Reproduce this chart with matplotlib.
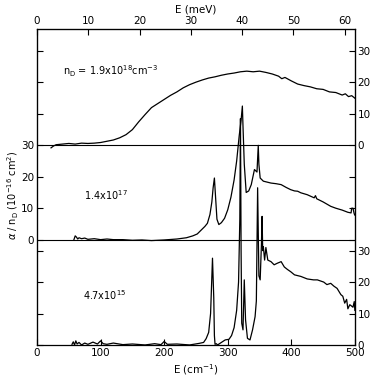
import numpy as np
import matplotlib
matplotlib.use('Agg')
import matplotlib.pyplot as plt

# offsets of the stacked spectra (in units of 1e-16 cm^2)
off_bot = 0.0
off_mid = 33.5
off_top = 63.5

# n_D = 1.9e18
top_x = [22, 26, 30, 40, 50, 60, 70, 80, 90, 100, 110, 120, 130, 140, 150, 160, 170, 180,
         190, 200, 210, 220, 230, 240, 250, 260, 270, 280, 290, 300, 310, 320, 330, 340,
         350, 360, 370, 380, 385, 390, 400, 410, 420, 430, 440, 450, 460, 470, 480, 485,
         490, 495, 500]
top_y = [-0.8, -0.2, 0.2, 0.4, 0.6, 0.4, 0.7, 0.6, 0.7, 0.9, 1.3, 1.7, 2.4, 3.4, 5.0, 7.5, 9.8,
         12.0, 13.3, 14.6, 15.9, 17.0, 18.3, 19.3, 20.1, 20.8, 21.4, 21.8, 22.3, 22.7, 23.0, 23.4,
         23.6, 23.4, 23.6, 23.2, 22.7, 22.0, 21.2, 21.6, 20.5, 19.5, 19.0, 18.6, 18.0, 17.8,
         17.0, 16.8, 16.0, 16.4, 15.5, 15.8, 15.0]

# n_D = 1.4e17
mid_x = [58, 60, 62, 64, 66, 70, 75, 80, 90, 100, 110, 120, 135, 150, 165, 180, 200, 220,
         235, 245, 252, 258, 264, 268, 272, 275, 277, 279, 281, 283, 286, 290, 295, 300, 305,
         310, 314, 318, 321, 323, 324, 326, 329, 333, 337, 342, 346, 348, 349, 351, 356, 362,
         368, 376, 384, 392, 399, 405, 410, 415, 425, 436, 438, 440, 450, 462, 470, 480, 489,
         494, 495, 497, 499, 500]
mid_y = [0.0, 1.2, 0.8, 0.2, 0.6, 0.3, 0.5, 0.1, 0.3, 0.0, 0.2, 0.0, 0.0, -0.2, -0.1, -0.3, -0.1,
         0.2, 0.6, 1.2, 1.8, 3.0, 4.2, 5.2, 8.0, 12.0, 16.5, 19.6, 13.0, 6.5, 4.8, 5.4, 6.8, 9.5,
         13.5, 19.0, 25.0, 33.0, 38.0, 42.5, 36.0, 24.0, 15.0, 15.5, 17.5, 22.3, 21.5, 30.0, 24.0,
         19.6, 18.6, 18.3, 18.0, 17.8, 17.5, 16.6, 15.9, 15.5, 15.4, 14.9, 14.3, 13.3, 14.0,
         13.0, 12.0, 10.6, 10.0, 9.4, 8.7, 8.5, 10.0, 10.0, 8.2, 7.8]

# n_D = 4.7e15
bot_x = [55, 57, 59, 61, 63, 66, 70, 75, 80, 88, 95, 100, 104, 110, 120, 135, 150, 170, 185,
         195, 200, 205, 220, 240, 255, 262, 266, 270, 273, 276, 278, 279, 280, 282, 284, 290,
         296, 302, 306, 310, 314, 317, 319, 320, 321, 322, 324, 326, 328, 331, 335, 339, 343,
         345, 347, 349, 351, 353, 354, 355, 356, 358, 360, 363, 368, 373, 378, 384, 389, 394,
         399, 405, 415, 425, 435, 441, 451, 456, 462, 467, 472, 478, 481, 484, 487, 489, 492,
         494, 497, 499, 500]
bot_y = [0.2, 1.0, 0.0, 1.3, 0.3, 0.8, 0.0, 0.6, 0.2, 0.9, 0.3, 1.3, 0.4, 0.2, 0.6, 0.1, 0.3,
         0.0, 0.4, 0.1, 1.1, 0.2, 0.3, 0.0, 0.5, 0.8, 2.0, 4.0, 10.0, 27.6, 15.0, 3.0, 0.2, 0.4,
         0.0, 0.8, 1.6, 1.8, 3.0, 5.5, 11.0, 20.0, 40.0, 72.0, 30.0, 6.9, 4.8, 20.7, 8.0, 2.1,
         1.6, 4.8, 9.0, 14.0, 50.0, 22.0, 20.7, 32.0, 40.9, 30.0, 31.3, 27.0, 31.0, 27.0, 26.5,
         25.5, 26.0, 26.5, 24.8, 24.0, 23.3, 22.3, 21.8, 21.0, 20.7, 20.7, 20.0, 19.2, 19.6,
         18.7, 18.0, 16.0, 15.5, 13.3, 14.5, 11.5, 12.8, 12.5, 12.0, 13.8, 11.0]

side_ticks = [0, 10, 20, 30]
cm_ticks = [0, 100, 200, 300, 400, 500]
mev_ticks = [0, 10, 20, 30, 40, 50, 60]

fs = 7.5
fig = plt.figure(figsize=(3.82, 3.82), dpi=100)
ax = fig.add_axes([0.097, 0.097, 0.832, 0.827])

ax.plot(top_x, np.array(top_y) + off_top, color='black', lw=0.9)
ax.plot(mid_x, np.array(mid_y) + off_mid, color='black', lw=0.9)
ax.plot(bot_x, np.array(bot_y) + off_bot, color='black', lw=0.9)
ax.axhline(off_mid, color='black', lw=0.8)
ax.axhline(off_top, color='black', lw=0.8)

ax.set_xlim(0, 500)
ax.set_ylim(0, 100.5)

ax.set_xticks(cm_ticks)
ax.set_xticklabels([str(t) for t in cm_ticks], fontsize=fs)
ax.set_xlabel('E (cm$^{-1}$)', fontsize=fs, labelpad=3)

# left labels for the middle spectrum, right labels for top and bottom
ticks = {}
for off, show_left, show_right in [(off_bot, False, True), (off_mid, True, False), (off_top, False, True)]:
    for t in side_ticks:
        p = round(off + t, 2)
        l, r = ticks.get(p, ('', ''))
        ticks[p] = (str(t) if show_left else l, str(t) if show_right else r)
pos = sorted(ticks)
left_lab = [ticks[p][0] for p in pos]
right_lab = [ticks[p][1] for p in pos]

ax.set_yticks(pos)
ax.tick_params(axis='y', left=False, labelleft=False)

axl = ax.secondary_yaxis('left')
axl.set_yticks(pos)
axl.set_yticklabels(left_lab, fontsize=fs)

axr = ax.secondary_yaxis('right')
axr.set_yticks(pos)
axr.set_yticklabels(right_lab, fontsize=fs)

# y label placed by hand next to the middle spectrum
fig.text(13 / 382, 1 - 195 / 382, r'$\alpha$ / n$_\mathrm{D}$ (10$^{-16}$ cm$^2$)',
         fontsize=7, rotation=90, ha='center', va='center')

top = ax.secondary_xaxis('top', functions=(lambda x: x * 0.12398, lambda e: e / 0.12398))
top.set_xticks(mev_ticks)
top.set_xticklabels([str(t) for t in mev_ticks], fontsize=fs)
top.set_xlabel('E (meV)', fontsize=fs, labelpad=3)

ax.tick_params(axis='x', direction='in', length=4, width=0.8, pad=2)
for a in (axl, axr, top):
    a.tick_params(direction='in', length=4, width=0.8, pad=2)
for s in ax.spines.values():
    s.set_linewidth(0.9)

ax.text(41, 87, r'n$_\mathrm{D}$ = 1.9x10$^{18}$cm$^{-3}$', fontsize=fs - 0.5, va='center')
ax.text(74, 47.8, '1.4x10$^{17}$', fontsize=fs - 0.5, va='center')
ax.text(72, 16, '4.7x10$^{15}$', fontsize=fs - 0.5, va='center')

fig.savefig('out.png', dpi=100)
